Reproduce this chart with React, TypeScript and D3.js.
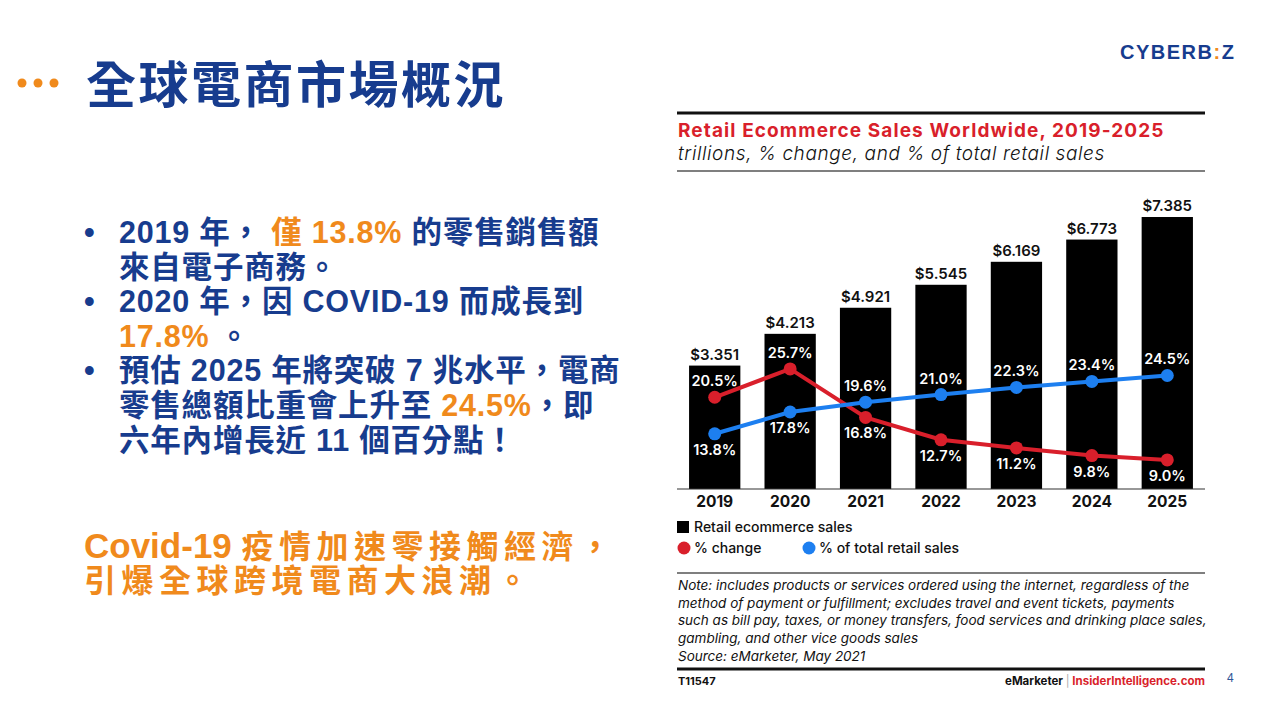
import React from "react";
import * as d3 from "d3";

const years = ["2019", "2020", "2021", "2022", "2023", "2024", "2025"];
const sales = [3.351, 4.213, 4.921, 5.545, 6.169, 6.773, 7.385];
const pctChange = [20.5, 25.7, 16.8, 12.7, 11.2, 9.8, 9.0];
const pctTotal = [13.8, 17.8, 19.6, 21.0, 22.3, 23.4, 24.5];

const noteLines = [
  "Note: includes products or services ordered using the internet, regardless of the",
  "method of payment or fulfillment; excludes travel and event tickets, payments",
  "such as bill pay, taxes, or money transfers, food services and drinking place sales,",
  "gambling, and other vice goods sales",
  "Source: eMarketer, May 2021",
];

const BLUE = "#173c8e";
const ORANGE = "#f08a1c";
const RED = "#d91f2b";
const LBLUE = "#1d7ff0";
const CJK = "'Liberation Sans', 'Noto Sans CJK TC', Arial, sans-serif";
const CF = "Inter, 'Noto Sans', sans-serif";

export default function App() {
  const L = 677, R = 1205;
  const x = d3.scaleBand<string>().domain(years).range([L, R]).paddingInner(0.32).paddingOuter(0.16);
  const base = 489;
  const y = d3.scaleLinear().domain([0, 8]).range([base, base - 8 * 36.83]);
  const yp = d3.scaleLinear().domain([0, 30]).range([509, 509 - 30 * 5.45]);
  const cx = (i: number) => (x(years[i]) as number) + x.bandwidth() / 2;
  const line = d3.line<number>().x((_, i) => cx(i)).y((d) => yp(d));

  const bulletStyle = { fontFamily: CJK, fontWeight: 700, fontSize: 30.5, letterSpacing: 0.8 } as const;
  const lh = 34.6;
  const b0 = 243;

  return (
    <svg width={1280} height={720} style={{ position: "absolute", left: 0, top: 0, background: "#fff" }}>
      {/* slide header */}
      {[0, 1, 2].map((i) => (
        <circle key={i} cx={22 + i * 16} cy={83} r={4.5} fill={ORANGE} />
      ))}
      <text x={86} y={103} fontFamily={CJK} fontWeight={700} fontSize={50} letterSpacing={2.5} fill={BLUE}>
        全球電商市場概況
      </text>
      <text x={1120} y={59} fontFamily="'Liberation Sans', Arial, sans-serif" fontWeight={700} fontSize={20} letterSpacing={1.5} fill={BLUE}>
        CYBERB<tspan fill={ORANGE}>:</tspan>Z
      </text>

      {/* bullets */}
      <g fill={BLUE} style={bulletStyle}>
        <text x={84} y={b0}>•</text>
        <text x={119} y={b0}>
          2019 年， <tspan fill={ORANGE}>僅 13.8%</tspan> 的零售銷售額
        </text>
        <text x={119} y={b0 + lh}>來自電子商務。</text>
        <text x={84} y={b0 + lh * 2}>•</text>
        <text x={119} y={b0 + lh * 2}>2020 年，因 COVID-19 而成長到</text>
        <text x={119} y={b0 + lh * 3}>
          <tspan fill={ORANGE}>17.8%</tspan> 。
        </text>
        <text x={84} y={b0 + lh * 4}>•</text>
        <text x={119} y={b0 + lh * 4}>預估 2025 年將突破 7 兆水平，電商</text>
        <text x={119} y={b0 + lh * 5}>
          零售總額比重會上升至 <tspan fill={ORANGE}>24.5%</tspan>，即
        </text>
        <text x={119} y={b0 + lh * 6}>六年內增長近 11 個百分點！</text>
      </g>
      <g fill={ORANGE} style={{ fontFamily: CJK, fontWeight: 700 }}>
        <text x={84} y={558}>
          <tspan fontSize={35}>Covid-19 </tspan>
          <tspan fontSize={32} letterSpacing={5.5}>疫情加速零接觸經濟，</tspan>
        </text>
        <text x={84} y={592} fontSize={32} letterSpacing={5.5}>引爆全球跨境電商大浪潮。</text>
      </g>

      {/* chart header */}
      <line x1={L} x2={R} y1={113} y2={113} stroke="#111" strokeWidth={3} />
      <text x={678} y={137} fontFamily={CF} fontWeight={700} fontSize={19} letterSpacing={1.1} fill={RED}>
        Retail Ecommerce Sales Worldwide, 2019-2025
      </text>
      <text x={678} y={160} fontFamily={CF} fontStyle="italic" fontWeight={300} fontSize={19} letterSpacing={0.6} fill="#111">
        trillions, % change, and % of total retail sales
      </text>
      <line x1={L} x2={R} y1={171} y2={171} stroke="#555" strokeWidth={1.5} />

      {/* bars */}
      {sales.map((v, i) => (
        <g key={years[i]}>
          <rect x={x(years[i])} y={y(v)} width={x.bandwidth()} height={base - y(v)} fill="#000" />
          <text x={cx(i)} y={y(v) - 6} textAnchor="middle" fontFamily={CF} fontWeight={600} fontSize={15} fill="#111">
            {"$" + v.toFixed(3)}
          </text>
          <text x={cx(i)} y={507} textAnchor="middle" fontFamily={CF} fontWeight={700} fontSize={15.5} fill="#111">
            {years[i]}
          </text>
        </g>
      ))}
      <line x1={L} x2={R} y1={base} y2={base} stroke="#333" strokeWidth={1.2} />

      {/* lines */}
      <path d={line(pctChange) || ""} fill="none" stroke={RED} strokeWidth={4} />
      <path d={line(pctTotal) || ""} fill="none" stroke={LBLUE} strokeWidth={4} />
      {pctChange.map((v, i) => (
        <circle key={"r" + i} cx={cx(i)} cy={yp(v)} r={6.5} fill={RED} />
      ))}
      {pctTotal.map((v, i) => (
        <circle key={"b" + i} cx={cx(i)} cy={yp(v)} r={6.5} fill={LBLUE} />
      ))}
      {pctChange.map((v, i) => {
        const above = v > pctTotal[i];
        return (
          <text key={"rl" + i} x={cx(i)} y={yp(v) + (above ? -11 : 21)} textAnchor="middle" fontFamily={CF} fontWeight={600} fontSize={14.5} fill="#fff">
            {v.toFixed(1) + "%"}
          </text>
        );
      })}
      {pctTotal.map((v, i) => {
        const above = v > pctChange[i];
        return (
          <text key={"bl" + i} x={cx(i)} y={yp(v) + (above ? -11 : 21)} textAnchor="middle" fontFamily={CF} fontWeight={600} fontSize={14.5} fill="#fff">
            {v.toFixed(1) + "%"}
          </text>
        );
      })}

      {/* legend */}
      <rect x={677} y={521} width={12} height={12} fill="#000" />
      <text x={694} y={532} fontFamily={CF} fontWeight={500} fontSize={14} fill="#111">Retail ecommerce sales</text>
      <circle cx={684} cy={548} r={6.5} fill={RED} />
      <text x={694} y={553} fontFamily={CF} fontWeight={500} fontSize={14} fill="#111">% change</text>
      <circle cx={809} cy={548} r={6.5} fill={LBLUE} />
      <text x={819} y={553} fontFamily={CF} fontWeight={500} fontSize={14} fill="#111">% of total retail sales</text>

      {/* note */}
      <line x1={L} x2={R} y1={573} y2={573} stroke="#555" strokeWidth={1.5} />
      {noteLines.map((t, i) => (
        <text key={i} x={678} y={590 + i * 17.7} fontFamily={CF} fontStyle="italic" fontWeight={400} fontSize={13.5} fill="#111">
          {t}
        </text>
      ))}
      <line x1={L} x2={R} y1={669} y2={669} stroke="#111" strokeWidth={3} />
      <text x={678} y={685} fontFamily={CF} fontWeight={700} fontSize={11} fill="#111">T11547</text>
      <text x={1205} y={685} textAnchor="end" fontFamily={CF} fontWeight={700} fontSize={11.5} fill="#111">
        eMarketer <tspan fill="#aaa" fontWeight={400}>|</tspan> <tspan fill={RED}>InsiderIntelligence.com</tspan>
      </text>
      <text x={1227} y={682} fontFamily="'Liberation Sans', Arial, sans-serif" fontSize={12} fill="#2f5597">4</text>
    </svg>
  );
}
